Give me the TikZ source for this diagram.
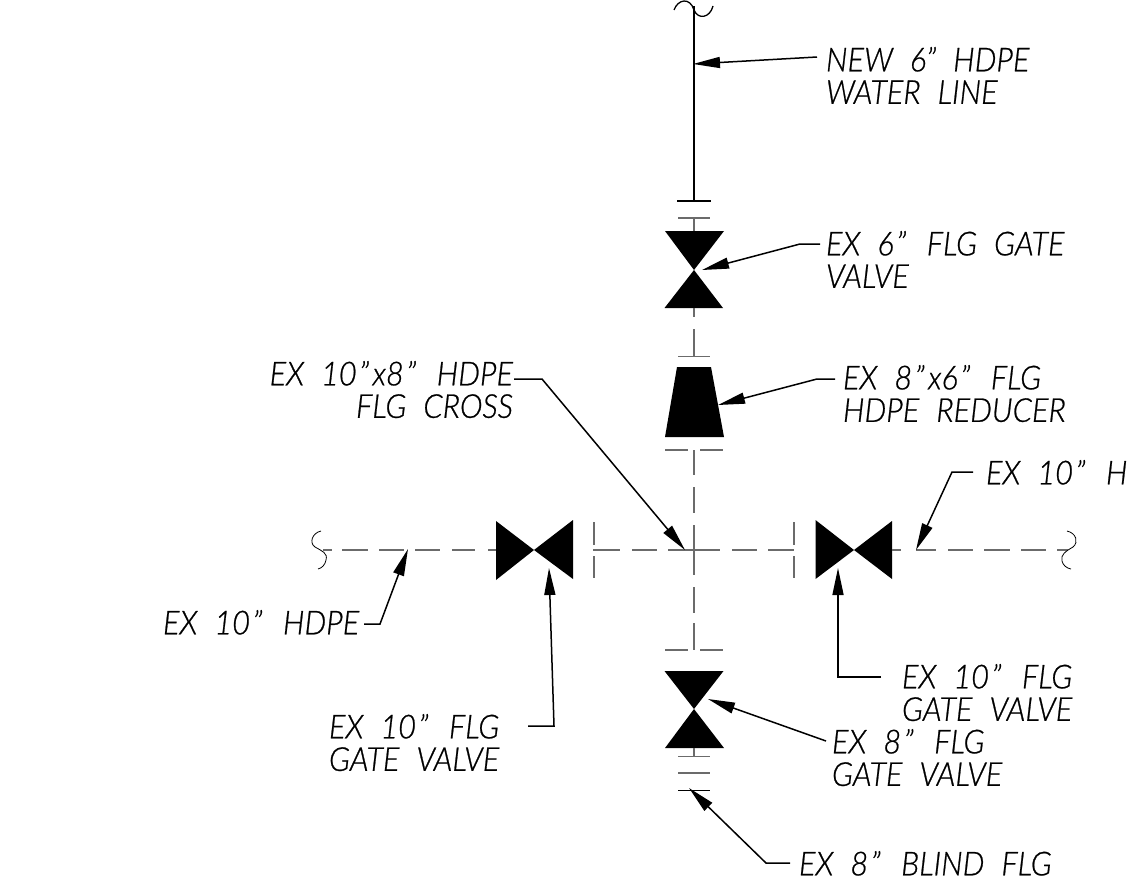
\documentclass[tikz,border=0pt]{standalone}
\usepackage{fontspec}
\setmainfont{Lato Light}[ItalicFont={Lato Light Italic},ItalicFeatures={FakeBold=0.7,FakeStretch=0.93},WordSpace=2.2]
\usetikzlibrary{arrows.meta}
\newcommand{\inchmark}{\kern2.5pt"\kern3.5pt}
\tikzset{
  x=1pt,y=-1pt,
  pipe/.style={draw=black!58,line width=1.2pt},
  pipethick/.style={draw=black,line width=1.5pt},
  flangeline/.style={draw=black!58,line width=1.1pt},
  flangethick/.style={draw=black,line width=2.2pt},
  fitting/.style={fill=black,draw=none},
  breakline/.style={draw=black,line width=0.8pt},
  leader/.style={draw=black,line width=1.5pt,-{Triangle[length=27pt,width=11pt]}},
  callout/.style={inner sep=0pt,outer sep=0pt,align=left,anchor=north west,font=\fontsize{33}{32.5}\selectfont\itshape},
  calloutr/.style={callout,align=right,anchor=north east},
}
\begin{document}
\begin{tikzpicture}
\useasboundingbox (0,0) rectangle (1129,892);
% vertical run, top
\draw[pipethick] (694,6) -- (694,201);
\draw[breakline,line width=1.3pt] (674,10) .. controls (678,-1) and (690,-3) .. (694,10) .. controls (698,20) and (710,18) .. (713,6);
\draw[flangethick] (677,201) -- (711,201);
\draw[flangeline] (678,218) -- (710,218);
\draw[pipe] (694,218) -- (694,231);
\fill[fitting] (665,231) -- (724,231) -- (694,270) -- (723,308) -- (664.5,308) -- (694,270) -- cycle;
\draw[pipe] (694,308) -- (694,317);
\draw[pipe] (694,329) -- (694,356);
\draw[flangeline] (678,356.5) -- (710,356.5);
\fill[fitting] (677,367) -- (711,367) -- (724,437) -- (665,437) -- cycle;
\draw[flangeline] (665,450) -- (688,450) (700,450) -- (723,450);
\draw[pipe] (694,450) -- (694,475) (694,487) -- (694,513) (694,525) -- (694,575) (694,587) -- (694,613) (694,623) -- (694,650);
\draw[flangeline] (665,650) -- (688,650) (700,650) -- (723,650);
\fill[fitting] (664.5,671) -- (723.5,671) -- (694,709) -- (724,748) -- (665,748) -- (694,709) -- cycle;
\draw[pipe] (694,748) -- (694,756);
\draw[flangeline] (678,756.5) -- (710,756.5) (678,773) -- (710,773);
\draw[breakline,line width=1pt] (678,790) -- (710,790);
% horizontal run
\draw[pipe] (323,550) -- (332,550) (342,550) -- (368,550) (379,550) -- (404,550) (415,550) -- (440,550) (452,550) -- (475,550) (488,550) -- (496,550);
\fill[fitting] (496,521) -- (534,550) -- (573,520) -- (573,579) -- (534,550) -- (496,580) -- cycle;
\draw[flangeline] (594,522) -- (594,545) (594,556) -- (594,578);
\draw[pipe] (593,550) -- (620,550) (632,550) -- (657,550) (668,550) -- (720,550) (732,550) -- (757,550) (768,550) -- (794,550);
\draw[flangeline] (794,522) -- (794,545) (794,556) -- (794,578);
\fill[fitting] (815.5,520) -- (854,550) -- (892,521) -- (892,579) -- (854,550) -- (815.5,579) -- cycle;
\draw[pipe] (892,550) -- (901,550) (916,550) -- (936,550) (948,550) -- (973,550) (984,550) -- (1010,550) (1021,550) -- (1046,550) (1057,550) -- (1068,550);
\draw[breakline] (321,531) .. controls (312,533) and (309,543) .. (315,547) .. controls (322,551) and (328,553) .. (326,560) .. controls (325,565) and (322,568) .. (318,569);
\draw[breakline] (1067,531) .. controls (1076,533) and (1079,542) .. (1073,547) .. controls (1066,551) and (1060,555) .. (1062,561) .. controls (1063,565) and (1066,568) .. (1071,569);
% labels
\node[callout] (newline) at (826,47) {NEW 6" HDPE\\WATER LINE};
\node[callout] (gate6) at (826,231) {EX 6\inchmark{} FLG GATE\\VALVE};
\node[callout] (reducer) at (843,365) {EX 8\inchmark{}x6\inchmark{} FLG\\HDPE REDUCER};
\node[calloutr] (cross) at (513,361) {EX 10\inchmark{}x8\inchmark{} HDPE\\FLG CROSS};
\node[callout] (hdpeR) at (986,460) {EX 10\inchmark{} H};
\node[callout] (hdpeL) at (163,610) {EX 10\inchmark{} HDPE};
\node[callout] (gateL) at (329,714) {EX 10\inchmark{} FLG\\GATE VALVE};
\node[callout] (gateR) at (902,664) {EX 10\inchmark{} FLG\\GATE VALVE};
\node[callout] (gate8) at (832,729) {EX 8\inchmark{} FLG\\GATE VALVE};
\node[callout] (blind) at (799,851) {EX 8\inchmark{} BLIND FLG};
% leader points
\coordinate (t1) at (693,64); \coordinate (s1) at (817,57);
\coordinate (t2) at (702,270); \coordinate (e2) at (800,244); \coordinate (s2) at (820,244);
\coordinate (t3) at (718,405); \coordinate (e3) at (817,379); \coordinate (s3) at (835,379);
\coordinate (t4) at (685,550); \coordinate (e4) at (542,379); \coordinate (s4) at (514,379);
\coordinate (t5) at (916,550); \coordinate (e5) at (952,472); \coordinate (s5) at (973,472);
\coordinate (t6) at (408,549); \coordinate (e6) at (380,624); \coordinate (s6) at (364,624);
\coordinate (t7) at (549,568); \coordinate (e7) at (554,726); \coordinate (s7) at (528,726);
\coordinate (t8) at (838,568); \coordinate (e8) at (838,677); \coordinate (s8) at (881,677);
\coordinate (t9) at (708,699); \coordinate (s9) at (826,741);
\coordinate (t10) at (689,788); \coordinate (e10) at (766,863); \coordinate (s10) at (790,863);
\draw[leader] (s1) -- (t1);
\draw[leader] (s2) -- (e2) -- (t2);
\draw[leader] (s3) -- (e3) -- (t3);
\draw[leader] (s4) -- (e4) -- (t4);
\draw[leader] (s5) -- (e5) -- (t5);
\draw[leader] (s6) -- (e6) -- (t6);
\draw[leader] (s7) -- (e7) -- (t7);
\draw[leader] (s8) -- (e8) -- (t8);
\draw[leader] (s9) -- (t9);
\draw[leader] (s10) -- (e10) -- (t10);
\end{tikzpicture}
\end{document}
